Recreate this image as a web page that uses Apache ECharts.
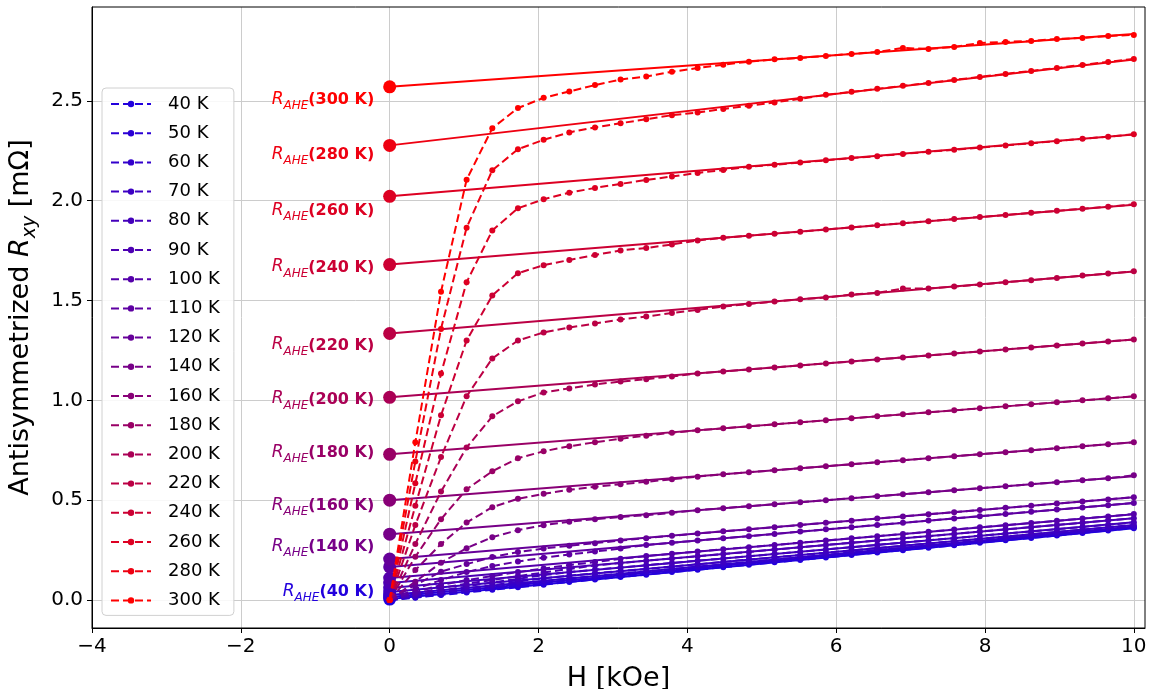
<!DOCTYPE html>
<html>
<head>
<meta charset="utf-8">
<script src="https://cdn.jsdelivr.net/npm/echarts@6/dist/echarts.min.js"></script>
<style>html,body{margin:0;padding:0;background:#fff}#c{width:1153px;height:689px}</style>
</head>
<body>
<div id="c"></div>
<script>
// Field values (kOe)
const H = [0, 0.345, 0.690, 1.034, 1.379, 1.724, 2.069, 2.414, 2.759, 3.103, 3.448, 3.793, 4.138, 4.483, 4.828, 5.172, 5.517, 5.862, 6.207, 6.552, 6.897, 7.241, 7.586, 7.931, 8.276, 8.621, 8.966, 9.310, 9.655, 10.0];
const temps = [40, 50, 60, 70, 80, 90, 100, 110, 120, 140, 160, 180, 200, 220, 240, 260, 280, 300];

// Antisymmetrized Rxy (mOhm) per temperature
const r40  = [0, 0.012, 0.025, 0.038, 0.051, 0.064, 0.077, 0.090, 0.103, 0.115, 0.127, 0.140, 0.152, 0.164, 0.177, 0.189, 0.201, 0.213, 0.226, 0.238, 0.250, 0.262, 0.274, 0.287, 0.299, 0.311, 0.323, 0.336, 0.348, 0.360];
const r50  = [0, 0.014, 0.028, 0.042, 0.056, 0.070, 0.085, 0.099, 0.111, 0.123, 0.135, 0.148, 0.160, 0.172, 0.184, 0.196, 0.208, 0.220, 0.232, 0.244, 0.256, 0.268, 0.280, 0.292, 0.305, 0.317, 0.329, 0.341, 0.353, 0.365];
const r60  = [0, 0.016, 0.032, 0.048, 0.064, 0.080, 0.095, 0.108, 0.120, 0.132, 0.143, 0.155, 0.167, 0.179, 0.190, 0.202, 0.214, 0.226, 0.238, 0.250, 0.261, 0.273, 0.285, 0.297, 0.309, 0.321, 0.332, 0.344, 0.356, 0.368];
const r70  = [0, 0.020, 0.038, 0.056, 0.074, 0.092, 0.109, 0.122, 0.134, 0.145, 0.156, 0.168, 0.179, 0.191, 0.203, 0.214, 0.225, 0.237, 0.248, 0.260, 0.272, 0.283, 0.295, 0.306, 0.318, 0.329, 0.341, 0.352, 0.364, 0.376];
const r80  = [0, 0.025, 0.047, 0.068, 0.088, 0.106, 0.125, 0.140, 0.152, 0.163, 0.174, 0.186, 0.197, 0.208, 0.219, 0.231, 0.242, 0.253, 0.265, 0.276, 0.288, 0.299, 0.310, 0.322, 0.333, 0.344, 0.355, 0.366, 0.377, 0.389];
const r90  = [0, 0.032, 0.060, 0.082, 0.100, 0.120, 0.138, 0.156, 0.173, 0.186, 0.197, 0.208, 0.219, 0.231, 0.241, 0.253, 0.264, 0.276, 0.287, 0.298, 0.310, 0.320, 0.331, 0.343, 0.354, 0.365, 0.376, 0.387, 0.399, 0.410];
const r100 = [0, 0.040, 0.075, 0.100, 0.120, 0.140, 0.158, 0.175, 0.190, 0.207, 0.220, 0.232, 0.243, 0.254, 0.265, 0.276, 0.287, 0.298, 0.309, 0.320, 0.331, 0.342, 0.353, 0.364, 0.375, 0.386, 0.397, 0.408, 0.419, 0.431];
const r110 = [0, 0.055, 0.100, 0.140, 0.170, 0.193, 0.212, 0.228, 0.243, 0.258, 0.276, 0.287, 0.298, 0.309, 0.320, 0.331, 0.343, 0.354, 0.365, 0.376, 0.387, 0.398, 0.409, 0.420, 0.431, 0.442, 0.453, 0.464, 0.475, 0.486];
const r120 = [0, 0.075, 0.142, 0.180, 0.215, 0.240, 0.258, 0.272, 0.285, 0.298, 0.310, 0.322, 0.333, 0.344, 0.354, 0.365, 0.376, 0.387, 0.397, 0.408, 0.419, 0.430, 0.440, 0.451, 0.462, 0.472, 0.483, 0.494, 0.504, 0.515];
const r140 = [0, 0.092, 0.187, 0.260, 0.315, 0.350, 0.375, 0.392, 0.405, 0.416, 0.425, 0.437, 0.450, 0.460, 0.470, 0.480, 0.490, 0.500, 0.510, 0.520, 0.530, 0.540, 0.550, 0.560, 0.570, 0.580, 0.590, 0.600, 0.610, 0.625];
const r160 = [0, 0.150, 0.281, 0.388, 0.465, 0.507, 0.532, 0.552, 0.567, 0.580, 0.592, 0.605, 0.618, 0.630, 0.640, 0.650, 0.660, 0.670, 0.680, 0.690, 0.700, 0.710, 0.720, 0.730, 0.740, 0.750, 0.760, 0.770, 0.780, 0.790];
const r180 = [0, 0.217, 0.405, 0.555, 0.645, 0.710, 0.745, 0.770, 0.790, 0.808, 0.823, 0.838, 0.850, 0.860, 0.870, 0.880, 0.890, 0.900, 0.910, 0.920, 0.930, 0.940, 0.950, 0.960, 0.970, 0.980, 0.990, 1.000, 1.010, 1.020];
const r200 = [0, 0.281, 0.543, 0.764, 0.920, 0.995, 1.040, 1.060, 1.080, 1.094, 1.106, 1.120, 1.135, 1.145, 1.155, 1.165, 1.175, 1.185, 1.195, 1.205, 1.215, 1.225, 1.235, 1.245, 1.255, 1.265, 1.275, 1.285, 1.295, 1.305];
const r220 = [0, 0.376, 0.716, 1.020, 1.210, 1.300, 1.340, 1.365, 1.385, 1.405, 1.420, 1.437, 1.453, 1.470, 1.483, 1.495, 1.506, 1.515, 1.530, 1.538, 1.560, 1.560, 1.570, 1.580, 1.592, 1.602, 1.613, 1.625, 1.635, 1.646];
const r240 = [0, 0.472, 0.925, 1.300, 1.525, 1.637, 1.677, 1.703, 1.728, 1.751, 1.763, 1.781, 1.801, 1.814, 1.825, 1.835, 1.845, 1.856, 1.866, 1.877, 1.887, 1.897, 1.908, 1.918, 1.928, 1.939, 1.949, 1.960, 1.970, 1.982];
const r260 = [0, 0.585, 1.134, 1.592, 1.851, 1.962, 2.007, 2.040, 2.064, 2.084, 2.104, 2.121, 2.139, 2.154, 2.170, 2.180, 2.191, 2.202, 2.214, 2.223, 2.234, 2.245, 2.255, 2.266, 2.277, 2.288, 2.298, 2.310, 2.320, 2.333];
const r280 = [0, 0.694, 1.358, 1.865, 2.152, 2.258, 2.305, 2.342, 2.367, 2.388, 2.408, 2.428, 2.442, 2.459, 2.475, 2.492, 2.510, 2.530, 2.545, 2.560, 2.575, 2.590, 2.605, 2.620, 2.635, 2.650, 2.665, 2.680, 2.695, 2.710];
const r300 = [0, 0.790, 1.544, 2.105, 2.363, 2.464, 2.515, 2.547, 2.579, 2.607, 2.622, 2.646, 2.664, 2.681, 2.696, 2.708, 2.715, 2.725, 2.735, 2.745, 2.765, 2.760, 2.770, 2.790, 2.795, 2.800, 2.810, 2.815, 2.825, 2.830];
const curves = [r40, r50, r60, r70, r80, r90, r100, r110, r120, r140, r160, r180, r200, r220, r240, r260, r280, r300];

// Linear fits: intercept = R_AHE (mOhm), slope (mOhm/kOe)
const intercepts = [0.005, 0.015, 0.025, 0.040, 0.060, 0.085, 0.110, 0.166, 0.205, 0.330, 0.500, 0.730, 1.015, 1.335, 1.680, 2.022, 2.277, 2.570];
const slopes     = [0.0355, 0.035, 0.0343, 0.0336, 0.033, 0.0325, 0.032, 0.032, 0.031, 0.029, 0.029, 0.029, 0.029, 0.031, 0.030, 0.031, 0.043, 0.0265];
const fitEndH = 10;

// R_AHE annotations: temperature and label anchor (H, R)
const annTemps = [40, 140, 160, 180, 200, 220, 240, 260, 280, 300];
const annY     = [0.060, 0.286, 0.492, 0.758, 1.024, 1.295, 1.686, 1.967, 2.248, 2.524];
const annH = -0.2;

// tick labels
const xTicks = [-4, -2, 0, 2, 4, 6, 8, 10];
const yTicks = [0, 0.5, 1.0, 1.5, 2.0, 2.5];

function colorOf(T) {
  const f = T / 300;
  const r = Math.round(255 * f), b = Math.round(255 * (1 - f));
  return 'rgb(' + r + ',0,' + b + ')';
}

const FONT = 'DejaVu Sans';
const series = [];
temps.forEach((T, i) => {
  const c = colorOf(T);
  series.push({
    name: T + ' K', type: 'line', data: H.map((h, j) => [h, curves[i][j]]),
    symbol: 'circle', symbolSize: 6, showSymbol: true,
    lineStyle: { color: c, width: 2, type: [8, 4] },
    itemStyle: { color: c }, z: 2 + i * 0.01, animation: false
  });
  const A = intercepts[i], s = slopes[i];
  series.push({
    name: 'fit' + T, type: 'line',
    data: [{ value: [0, A], symbol: 'circle', symbolSize: 13 }, { value: [fitEndH, A + s * fitEndH], symbol: 'none' }],
    lineStyle: { color: c, width: 2, type: 'solid' }, itemStyle: { color: c },
    z: 2 + i * 0.01 + 0.005, animation: false
  });
});
annTemps.forEach((T, k) => {
  const c = colorOf(T);
  series.push({
    name: 'ann' + T, type: 'scatter', symbolSize: 1, z: 5,
    itemStyle: { color: 'rgba(0,0,0,0)', opacity: 1 },
    data: [[annH, annY[k]]],
    label: {
      show: true, position: 'left', distance: 0, opacity: 1,
      formatter: '{i|R}{s|AHE}{b|(' + T + ' K)}',
      rich: {
        i: { fontFamily: FONT, fontStyle: 'italic', fontSize: 17, color: c, lineHeight: 24, verticalAlign: 'bottom' },
        s: { fontFamily: FONT, fontStyle: 'italic', fontSize: 12, color: c, lineHeight: 24, verticalAlign: 'bottom', padding: [0, 0, -4, 0] },
        b: { fontFamily: FONT, fontWeight: 'bold', fontSize: 16, color: c, lineHeight: 24, verticalAlign: 'bottom' }
      }
    },
    silent: true, animation: false
  });
});

const chart = echarts.init(document.getElementById('c'), null, { renderer: 'canvas' });
chart.setOption({
  animation: false,
  backgroundColor: '#fff',
  grid: { left: 92, right: 8, top: 7, bottom: 61, containLabel: false, outerBoundsMode: 'none',
    show: true, borderColor: '#000', borderWidth: 1, backgroundColor: 'transparent', z: 10 },
  legend: {
    data: temps.map(T => T + ' K'), orient: 'vertical', left: 102, top: 88,
    padding: [7, 14, 6, 8], itemWidth: 40, itemHeight: 8, itemGap: 11.2,
    backgroundColor: 'rgba(255,255,255,0.85)', borderColor: '#d0d0d0', borderWidth: 1, borderRadius: 4,
    textStyle: { fontFamily: FONT, fontSize: 18, color: '#000', padding: [0, 0, 0, 12] },
    z: 20
  },
  xAxis: {
    type: 'value', min: -4, max: 10.15, splitNumber: 7,
    name: 'H [kOe]', nameLocation: 'middle', nameGap: 37,
    nameTextStyle: { fontFamily: FONT, fontSize: 27, color: '#000' },
    axisLine: { show: true, onZero: false, lineStyle: { color: '#000', width: 1 } },
    axisTick: { show: true, inside: false, length: 5, lineStyle: { color: '#000' }, customValues: xTicks },
    axisLabel: { fontFamily: FONT, fontSize: 20, color: '#000', margin: 9, customValues: xTicks,
      formatter: v => (v < 0 ? '\u2212' + Math.abs(v) : String(v)) },
    splitLine: { show: true, lineStyle: { color: '#cccccc', width: 1 } }
  },
  yAxis: {
    type: 'value', min: -0.14, max: 2.97, splitNumber: 6,
    name: '{n|Antisymmetrized }{i|R}{s|xy}{n| [mΩ]}', nameLocation: 'middle', nameGap: 58, nameRotate: 90,
    nameTextStyle: { fontFamily: FONT, fontSize: 27, color: '#000',
      rich: {
        n: { fontFamily: FONT, fontSize: 27, color: '#000', lineHeight: 34, verticalAlign: 'bottom' },
        i: { fontFamily: FONT, fontSize: 27, fontStyle: 'italic', color: '#000', lineHeight: 34, verticalAlign: 'bottom' },
        s: { fontFamily: FONT, fontSize: 19, fontStyle: 'italic', color: '#000', lineHeight: 34, verticalAlign: 'bottom', padding: [0, 0, -6, 0] }
      } },
    axisLine: { show: true, onZero: false, lineStyle: { color: '#000', width: 1 } },
    axisTick: { show: true, inside: false, length: 5, lineStyle: { color: '#000' }, customValues: yTicks },
    axisLabel: { fontFamily: FONT, fontSize: 20, color: '#000', margin: 9, customValues: yTicks,
      formatter: v => v.toFixed(1) },
    splitLine: { show: true, lineStyle: { color: '#cccccc', width: 1 } }
  },
  series: series
});
</script>
</body>
</html>
